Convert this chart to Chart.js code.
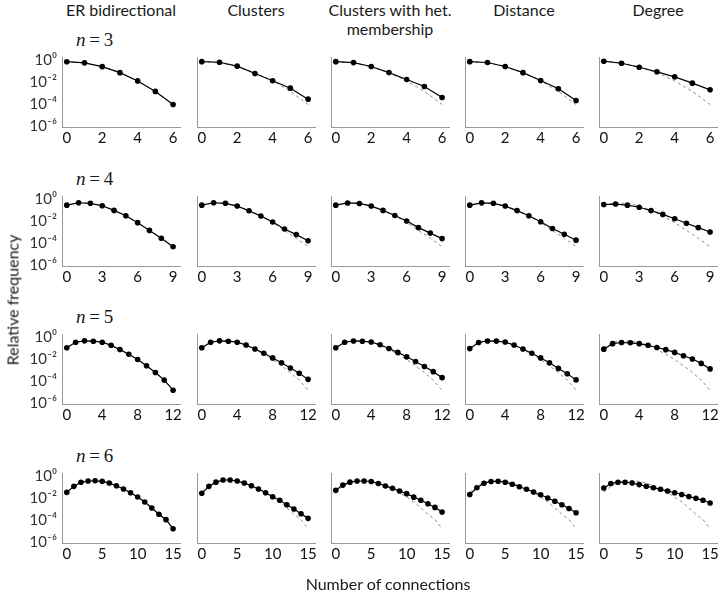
<!DOCTYPE html>
<html>
<head>
<meta charset="utf-8">
<script src="https://cdn.jsdelivr.net/npm/chart.js@4.4.1/dist/chart.umd.min.js"></script>
<style>
  body { margin: 0; background: #fff; }
  #fig { position: relative; width: 720px; height: 590px; overflow: hidden; font-family: Lato, "Open Sans", sans-serif; color: #1a1a1a; }
  .panel { position: absolute; }
  .coltitle { position: absolute; font-size: 16px; text-align: center; line-height: 19px; width: 170px; }
  .nlab { position: absolute; font-family: "Liberation Serif", "DejaVu Serif", serif; font-size: 19px; white-space: nowrap; }
  .axtitle { position: absolute; font-size: 16px; white-space: nowrap; }
</style>
</head>
<body>
<div id="fig"></div>
<script>
// column headings, row labels, ticks
var models = ["ER bidirectional", "Clusters", "Clusters with het.<br>membership", "Distance", "Degree"];
var nodes = [3, 4, 5, 6];
var xTicks = [[0, 2, 4, 6], [0, 3, 6, 9], [0, 4, 8, 12], [0, 5, 10, 15]];
var yTicks = [1, 1e-2, 1e-4, 1e-6];
var yTickLabels = ["10\u2070", "10\u207B\u00B2", "10\u207B\u2074", "10\u207B\u2076"];

// relative frequency per number of connections (index = connections), one row per n
var erBidirectional = [
  [0.71, 0.56, 0.25, 0.071, 0.0126, 1.4e-3, 8.9e-5],
  [0.28, 0.46, 0.41, 0.245, 0.093, 0.030, 7.1e-3, 1.4e-3, 2.7e-4, 4.6e-5],
  [0.105, 0.34, 0.45, 0.42, 0.34, 0.178, 0.072, 0.0275, 8.9e-3, 2.4e-3, 5.9e-4, 1.2e-4, 1.45e-5],
  [0.033, 0.115, 0.27, 0.355, 0.37, 0.33, 0.23, 0.132, 0.066, 0.030, 0.0123, 4.4e-3, 1.23e-3, 3.3e-4, 1.07e-4, 1.6e-5]
];
var clusters = [
  [0.72, 0.63, 0.28, 0.059, 0.0129, 2.75e-3, 2.75e-4],
  [0.28, 0.46, 0.41, 0.23, 0.087, 0.028, 8.1e-3, 1.9e-3, 5.8e-4, 1.6e-4],
  [0.105, 0.34, 0.45, 0.42, 0.34, 0.19, 0.083, 0.034, 0.0126, 4.5e-3, 1.5e-3, 5e-4, 1.4e-4],
  [0.027, 0.115, 0.28, 0.44, 0.44, 0.355, 0.23, 0.132, 0.066, 0.030, 0.0132, 6.2e-3, 2.45e-3, 1e-3, 3.7e-4, 1.4e-4]
];
var clustersHet = [
  [0.72, 0.59, 0.26, 0.072, 0.017, 3.9e-3, 3.9e-4],
  [0.28, 0.44, 0.40, 0.23, 0.093, 0.032, 0.01, 2.5e-3, 7.9e-4, 2.5e-4],
  [0.105, 0.34, 0.44, 0.42, 0.35, 0.2, 0.091, 0.04, 0.0158, 6e-3, 2.1e-3, 7.1e-4, 2e-4],
  [0.05, 0.15, 0.28, 0.355, 0.355, 0.32, 0.21, 0.126, 0.076, 0.043, 0.025, 0.012, 6.3e-3, 3e-3, 1.4e-3, 5.2e-4]
];
var distance = [
  [0.72, 0.60, 0.26, 0.071, 0.0138, 2.4e-3, 2.1e-4],
  [0.28, 0.45, 0.41, 0.23, 0.089, 0.030, 8.5e-3, 2.1e-3, 6.3e-4, 1.8e-4],
  [0.089, 0.32, 0.44, 0.43, 0.35, 0.19, 0.083, 0.034, 0.0126, 4.5e-3, 1.4e-3, 4.5e-4, 1.26e-4],
  [0.021, 0.087, 0.22, 0.32, 0.34, 0.275, 0.178, 0.107, 0.063, 0.035, 0.02, 0.01, 5e-3, 2.4e-3, 1.1e-3, 4.5e-4]
];
var degree = [
  [0.79, 0.51, 0.22, 0.085, 0.0295, 7.9e-3, 1.95e-3],
  [0.32, 0.35, 0.28, 0.18, 0.089, 0.04, 0.016, 6.3e-3, 2.5e-3, 1e-3],
  [0.079, 0.25, 0.32, 0.30, 0.25, 0.178, 0.112, 0.071, 0.04, 0.02, 0.01, 4e-3, 1.26e-3],
  [0.081, 0.21, 0.275, 0.275, 0.234, 0.166, 0.117, 0.087, 0.062, 0.043, 0.030, 0.021, 0.0135, 9.3e-3, 6.2e-3, 3.5e-3]
];
var series = [erBidirectional, clusters, clustersHet, distance, degree];

// layout
var axisX = [62, 197, 331, 465, 599];
var plotTop = [57, 196, 334, 473];
var plotW = 118, plotH = 70;
var padL = 50, padT = 14, padR = 12, xAxisH = 22;

var fig = document.getElementById("fig");

function addText(cls, html, left, top, extra) {
  var d = document.createElement("div");
  d.className = cls;
  d.innerHTML = html;
  d.style.left = left + "px";
  d.style.top = top + "px";
  if (extra) d.style.cssText += extra;
  fig.appendChild(d);
  return d;
}

function toPoints(arr) {
  return arr.map(function (v, k) { return { x: k, y: v }; });
}

for (var c = 0; c < models.length; c++) {
  addText("coltitle", models[c], axisX[c] + plotW / 2 - 85, 0);
}

for (var r = 0; r < nodes.length; r++) {
  addText("nlab", "<i>n</i>\u2009=\u2009" + nodes[r], 76, plotTop[r] - 28);

  for (var c = 0; c < series.length; c++) {
    var cv = document.createElement("canvas");
    cv.className = "panel";
    cv.width = padL + plotW + padR;
    cv.height = padT + plotH + xAxisH;
    cv.style.left = (axisX[c] - padL) + "px";
    cv.style.top = (plotTop[r] - padT) + "px";
    fig.appendChild(cv);

    var xmax = xTicks[r][3];
    (function (r, c) {
      new Chart(cv, {
        type: "line",
        data: {
          datasets: [{
            data: toPoints(series[c][r]),
            borderColor: "#000",
            borderWidth: 1.2,
            pointRadius: 2.8,
            pointBackgroundColor: "#000",
            pointBorderWidth: 0,
            tension: 0,
            clip: false,
            order: 1
          }, {
            data: toPoints(erBidirectional[r]),
            borderColor: "#8a8a8a",
            borderWidth: 1,
            borderDash: [3, 3],
            pointRadius: 0,
            tension: 0,
            clip: false,
            order: 2
          }]
        },
        options: {
          responsive: false,
          animation: false,
          events: [],
          layout: { padding: { top: padT, right: padR, left: 0, bottom: 0 } },
          plugins: { legend: { display: false }, tooltip: { enabled: false } },
          scales: {
            x: {
              type: "linear",
              min: -0.045 * xmax,
              max: 1.065 * xmax,
              grid: { display: false, drawTicks: false },
              border: { display: true, color: "#999", width: 1 },
              afterBuildTicks: function (s) { s.ticks = xTicks[r].map(function (v) { return { value: v }; }); },
              afterFit: function (s) { s.height = xAxisH; },
              ticks: {
                padding: 2, color: "#111", autoSkip: false, maxRotation: 0,
                font: { family: "Lato", size: 15 },
                callback: function (v) { return String(v); }
              }
            },
            y: {
              type: "logarithmic",
              min: 8e-7,
              max: 1.9,
              grid: { display: false, drawTicks: false },
              border: { display: true, color: "#999", width: 1 },
              afterBuildTicks: function (s) { s.ticks = yTicks.map(function (v) { return { value: v }; }); },
              afterFit: function (s) { s.width = padL; },
              ticks: {
                display: c === 0,
                padding: 5, color: "#333", autoSkip: false,
                font: { family: "Lato", size: 15 },
                callback: function (v, i) { return yTickLabels[i]; }
              }
            }
          }
        }
      });
    })(r, c);
  }
}

addText("axtitle", "Relative frequency", 12, 300, "transform: translate(-50%,-50%) rotate(-90deg);");
addText("axtitle", "Number of connections", 388, 583, "transform: translate(-50%,-50%);");
</script>
</body>
</html>
